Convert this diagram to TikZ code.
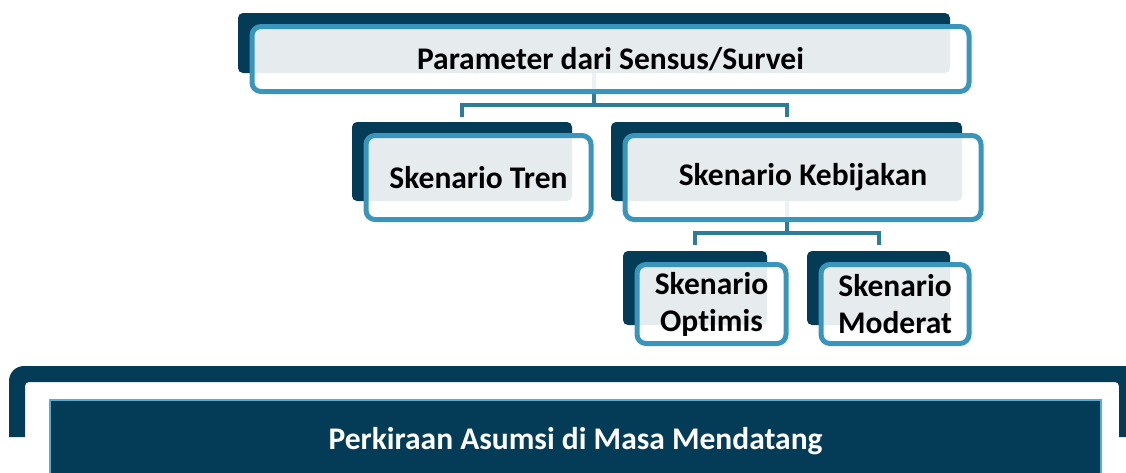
\documentclass[tikz,border=0pt]{standalone}
\usepackage{fontspec}
\setmainfont[Ligatures=NoCommon]{Carlito}
\usepackage{tikz}
\usetikzlibrary{calc}
\definecolor{navy}{RGB}{4,60,88}
\definecolor{ringblue}{RGB}{58,149,189}
\definecolor{linkblue}{RGB}{44,124,154}
\definecolor{edgeblue}{RGB}{86,172,212}
\tikzset{
  backbox/.style={rectangle,rounded corners=5pt,fill=navy,inner sep=0pt,outer sep=0pt},
  frontbox/.style={rectangle,rounded corners=9pt,draw=ringblue,line width=5pt,
    fill=white,fill opacity=.9,text opacity=1,inner sep=0pt,outer sep=0pt,
    align=center,font=\bfseries\fontsize{31.5}{37}\selectfont},
  link/.style={draw=linkblue,line width=4pt}
}
\begin{document}
\begin{tikzpicture}[x=1pt,y=-1pt]
\useasboundingbox(0,0)rectangle(1126,472);
%back boxes
\node[backbox,minimum width=712pt,minimum height=60pt](paramback)at(594,43){};
\node[backbox,minimum width=220pt,minimum height=79pt](trenback)at(462,161.5){};
\node[backbox,minimum width=351pt,minimum height=79pt](kebback)at(786.5,161.5){};
\node[backbox,minimum width=144pt,minimum height=74pt](optback)at(695,288){};
\node[backbox,minimum width=143pt,minimum height=74pt](modback)at(878.5,288){};
%links
\coordinate(split1)at(594,105);
\coordinate(split2)at(786.5,233);
\draw[link](paramback.south)--(split1);
\draw[link,shorten <=5pt,shorten >=5pt](trenback.north)|-(split1)-|(kebback.north);
\draw[link](kebback.south)--(split2);
\draw[link,shorten <=6pt,shorten >=6pt](optback.north)|-(split2)-|(modback.north);
%front boxes
\node[frontbox,minimum width=717pt,minimum height=65pt](param)at([shift={(16.5,16)}]paramback.center){Parameter dari Sensus/Survei};
\node[frontbox,minimum width=225pt,minimum height=84pt](tren)at([shift={(16.5,16)}]trenback.center){Skenario Tren};
\node[frontbox,minimum width=356pt,minimum height=84pt](keb)at([shift={(16.5,16)}]kebback.center){Skenario Kebijakan};
\node[frontbox,minimum width=149pt,minimum height=79pt](opt)at([shift={(16.5,16)}]optback.center){Skenario\\Optimis};
\node[frontbox,minimum width=148pt,minimum height=79pt](mod)at([shift={(16.5,16)}]modback.center){Skenario\\Moderat};
%bracket
\fill[navy](9,437)[rounded corners=15pt]--(9,366)[sharp corners]--(1126,366)--(1126,437)--(1119,437)
  [rounded corners=4pt]--(1119,382)--(25,382)[sharp corners]--(25,437)--cycle;
%future box
\node[rectangle,fill=navy,draw=edgeblue,line width=1.5pt,minimum width=1051pt,minimum height=82pt,
  text=white,font=\bfseries\fontsize{31.5}{37}\selectfont](future)at(575.5,441){Perkiraan Asumsi di Masa Mendatang};
\end{tikzpicture}
\end{document}
